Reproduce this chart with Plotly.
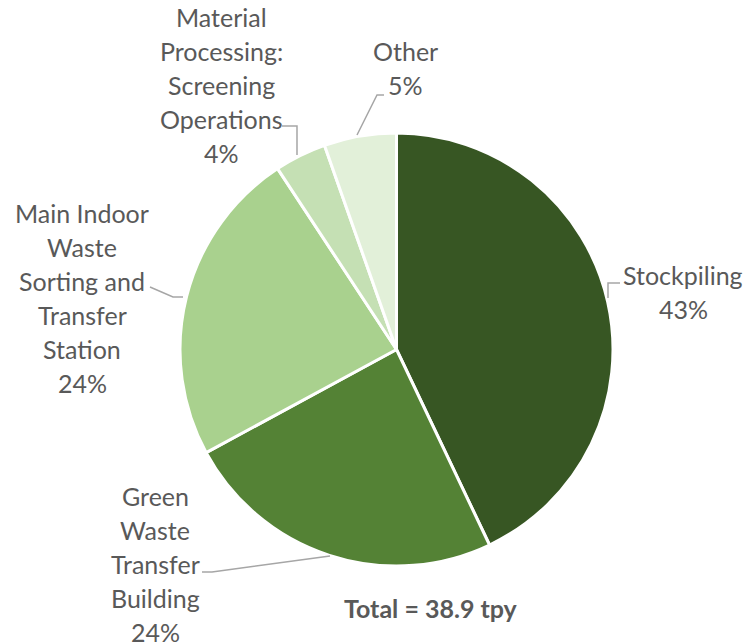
import plotly.graph_objects as go

categories = ["Stockpiling", "Green Waste Transfer Building",
              "Main Indoor Waste Sorting and Transfer Station",
              "Material Processing: Screening Operations", "Other"]
label_lines = [["Stockpiling"], ["Green", "Waste", "Transfer", "Building"],
               ["Main Indoor", "Waste", "Sorting and", "Transfer", "Station"],
               ["Material", "Processing:", "Screening", "Operations"], ["Other"]]
values_tpy = [16.7, 9.4, 9.2, 1.5, 2.1]
colors = ["#375623", "#548235", "#A9D18E", "#C5E0B4", "#E2F0D9"]
total_text = "Total = 38.9 tpy"

W, H = 747, 644
total = sum(values_tpy)

fig = go.Figure(go.Pie(
    labels=categories, values=values_tpy, sort=False, direction="clockwise",
    rotation=0, textinfo="none", hoverinfo="label+percent",
    marker=dict(colors=colors, line=dict(color="white", width=3)),
    domain=dict(x=[180 / W, 613 / W], y=[(H - 566) / H, (H - 133) / H]),
    showlegend=False,
))

# label block centres (px) and line spacing
centres = [(683, 292), (155, 564), (82, 298), (222, 85), (405, 68)]
spacing = 34
font = dict(family="Lato, Carlito, sans-serif", size=25, color="#595959")
annotations = []
for lines, v, (cx, cy) in zip(label_lines, values_tpy, centres):
    all_lines = lines + [f"{v / total:.0%}"]
    n = len(all_lines)
    for i, t in enumerate(all_lines):
        y = cy + (i - (n - 1) / 2) * spacing
        annotations.append(dict(text=t, x=cx / W, y=1 - y / H, xref="paper", yref="paper",
                                showarrow=False, font=font, xanchor="center", yanchor="middle"))
annotations.append(dict(text=f"<b>{total_text}</b>", x=431 / W, y=1 - 608 / H, xref="paper",
                        yref="paper", showarrow=False, xanchor="center", yanchor="middle",
                        font=dict(family="Lato, Carlito, sans-serif", size=25, color="#595959")))

leaders = [
    [(608, 298), (608, 283), (620, 283)],
    [(330, 556), (212, 572), (202, 572)],
    [(183, 297), (173, 297), (150, 287)],
    [(297, 155), (297, 126), (282, 126)],
    [(357, 135), (377, 95), (384, 95)],
]
shapes = []
for pts in leaders:
    path = "M " + " L ".join(f"{x / W:.5f},{1 - y / H:.5f}" for x, y in pts)
    shapes.append(dict(type="path", path=path, xref="paper", yref="paper",
                       line=dict(color="#A6A6A6", width=1.5)))

fig.update_layout(width=W, height=H, margin=dict(l=0, r=0, t=0, b=0),
                  paper_bgcolor="white", plot_bgcolor="white",
                  annotations=annotations, shapes=shapes)
fig.write_html("out.html", config={"displayModeBar": False},
               post_script="document.body.style.margin='0';document.body.style.overflow='hidden';")
